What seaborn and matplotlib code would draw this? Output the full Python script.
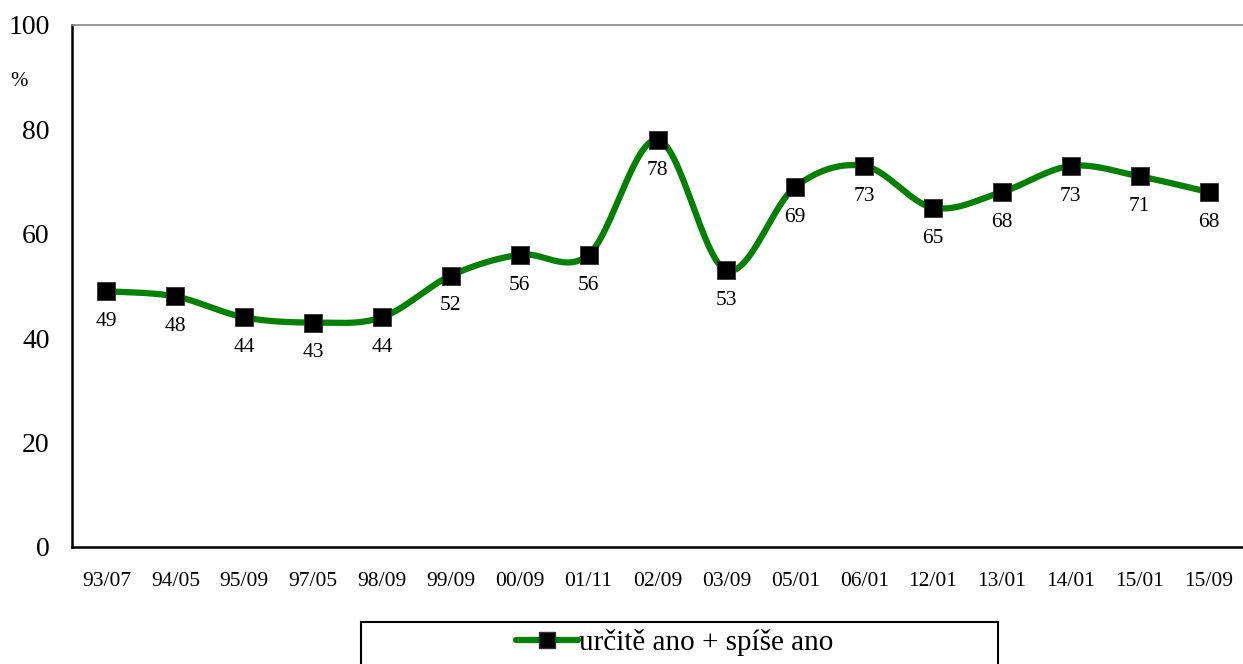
import numpy as np
import pandas as pd
import matplotlib
matplotlib.use("Agg")
import matplotlib.pyplot as plt
from matplotlib.patches import Rectangle
from matplotlib.lines import Line2D
import seaborn as sns

categories = ["93/07", "94/05", "95/09", "97/05", "98/09", "99/09", "00/09", "01/11",
              "02/09", "03/09", "05/01", "06/01", "12/01", "13/01", "14/01", "15/01", "15/09"]
values = [49, 48, 44, 43, 44, 52, 56, 56, 78, 53, 69, 73, 65, 68, 73, 71, 68]
series_name = "určitě ano + spíše ano"
y_ticks = [0, 20, 40, 60, 80, 100]

sns.set_style("white")
plt.rcParams["font.family"] = ["Liberation Serif", "DejaVu Serif"]
plt.rcParams["text.color"] = "black"
plt.rcParams["xtick.color"] = "black"
plt.rcParams["ytick.color"] = "black"

fig = plt.figure(figsize=(12.43, 6.64), dpi=100)
ax = fig.add_axes([72 / 1243, 117 / 664, 1 - 72 / 1243, (547 - 25) / 664])

# Excel-like smoothed line (Catmull-Rom Bezier through the data points)
x = np.arange(len(values), dtype=float)
y = np.array(values, dtype=float)
px = np.concatenate([[x[0]], x, [x[-1]]])
py = np.concatenate([[y[0]], y, [y[-1]]])
sx, sy = [], []
t = np.linspace(0, 1, 30)
for i in range(len(x) - 1):
    p0 = np.array([px[i + 1], py[i + 1]])
    p3 = np.array([px[i + 2], py[i + 2]])
    c1 = p0 + (p3 - np.array([px[i], py[i]])) / 6
    c2 = p3 - (np.array([px[i + 3], py[i + 3]]) - p0) / 6
    b = ((1 - t) ** 3)[:, None] * p0 + (3 * (1 - t) ** 2 * t)[:, None] * c1 \
        + (3 * (1 - t) * t ** 2)[:, None] * c2 + (t ** 3)[:, None] * p3
    sx.extend(b[:, 0]); sy.extend(b[:, 1])
smooth = pd.DataFrame({"x": sx, "y": sy})
pts = pd.DataFrame({"x": x, "y": y})

sns.lineplot(data=smooth, x="x", y="y", sort=False, color="#008000", linewidth=4.5, ax=ax)
sns.scatterplot(data=pts, x="x", y="y", marker="s", s=170, color="black",
                edgecolor="#333333", linewidth=0.6, zorder=5, ax=ax)

for xi, yi in zip(x, y):
    ax.annotate(f"{int(yi)}", (xi, yi), xytext=(0, -15), textcoords="offset points",
                ha="center", va="top", fontsize=15.5)

ax.set_xlim(-0.5, len(values) - 0.5)
ax.set_ylim(0, 100)
ax.set_yticks(y_ticks)
ax.set_yticklabels([str(v) for v in y_ticks], fontsize=20)
ax.set_xticks(x)
ax.set_xticklabels(categories, fontsize=15.5)
ax.set_xticks(np.arange(-0.5, len(values), 1.0), minor=True)
ax.tick_params(axis="x", which="major", length=0, pad=18)
ax.tick_params(axis="x", which="minor", length=7, width=1.5, direction="out", color="black")
ax.tick_params(axis="y", length=8, width=1.5, direction="out", color="black", pad=8)
ax.set_xlabel(""); ax.set_ylabel("")

for s in ["left", "bottom"]:
    ax.spines[s].set_color("black")
    ax.spines[s].set_linewidth(1.8)
ax.spines["top"].set_color("#888888")
ax.spines["top"].set_linewidth(1.2)
ax.spines["right"].set_visible(False)

fig.text(10 / 1243, 1 - 82 / 664, "%", fontsize=15, ha="left", va="center")

# Legend box
fig.patches.append(Rectangle((361 / 1243, -0.01), (998 - 361) / 1243, (664 - 622) / 664 + 0.01,
                             transform=fig.transFigure, facecolor="white",
                             edgecolor="black", linewidth=1.5))
handle = Line2D([], [], color="#008000", linewidth=4.5, marker="s", markersize=12,
                markerfacecolor="black", markeredgecolor="#333333")
fig.legend([handle], [series_name], loc="center", bbox_to_anchor=(675 / 1243, 1 - 643 / 664),
           frameon=False, fontsize=21, handlelength=2.1, handletextpad=0.05)

fig.savefig("out.png", dpi=100)
